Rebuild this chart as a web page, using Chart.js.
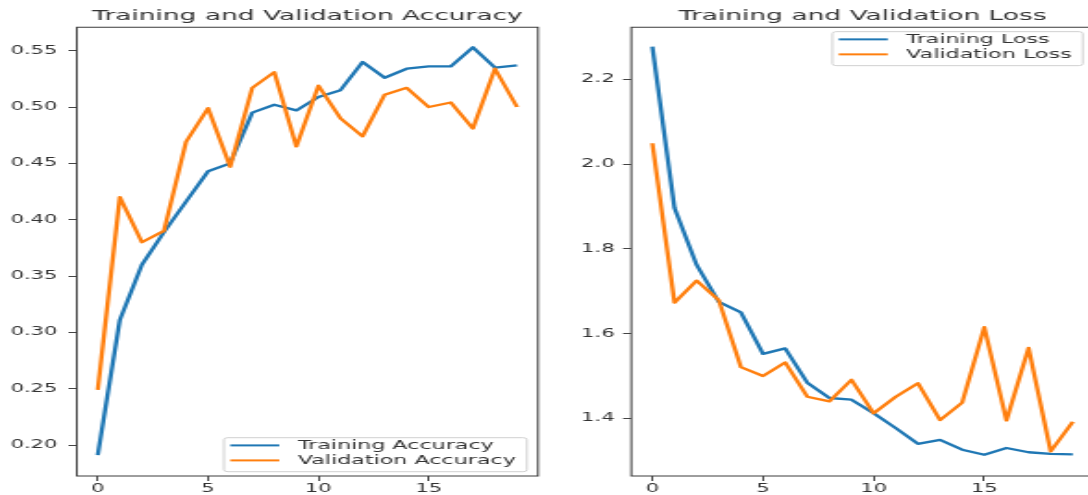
<!DOCTYPE html>
<html>
<head>
<meta charset="utf-8">
<title>Training and Validation</title>
<script src="https://cdn.jsdelivr.net/npm/chart.js@4.4.1/dist/chart.umd.min.js"></script>
<style>
    html, body { margin: 0; padding: 0; background: #fff; overflow: hidden; }
    body { width: 1088px; height: 495px; position: relative; }
    /* the source figure is stretched sideways, so each panel is drawn narrow and widened */
    .panel { position: absolute; top: 0; height: 495px; transform-origin: 0 0; transform: scaleX(1.85); }
    #accPanel { left: 0; width: 294px; }
    #lossPanel { left: 544px; width: 300px; }
</style>
</head>
<body>
<div class="panel" id="accPanel"><canvas id="accChart" width="294" height="495"></canvas></div>
<div class="panel" id="lossPanel"><canvas id="lossChart" width="300" height="495"></canvas></div>
<script>
const epochs = [0, 1, 2, 3, 4, 5, 6, 7, 8, 9, 10, 11, 12, 13, 14, 15, 16, 17, 18, 19];

const trainAcc = [0.191, 0.311, 0.360, 0.389, 0.416, 0.443, 0.450, 0.495, 0.502, 0.497,
                  0.509, 0.515, 0.540, 0.526, 0.534, 0.536, 0.536, 0.553, 0.535, 0.537];
const valAcc = [0.249, 0.420, 0.380, 0.390, 0.469, 0.499, 0.447, 0.517, 0.531, 0.465,
                0.519, 0.490, 0.474, 0.511, 0.517, 0.500, 0.504, 0.481, 0.534, 0.500];

const trainLoss = [2.277, 1.896, 1.762, 1.675, 1.650, 1.552, 1.565, 1.484, 1.448, 1.444,
                   1.412, 1.377, 1.340, 1.349, 1.326, 1.314, 1.330, 1.320, 1.316, 1.315];
const valLoss = [2.049, 1.673, 1.725, 1.679, 1.521, 1.500, 1.532, 1.451, 1.440, 1.491,
                 1.412, 1.451, 1.483, 1.396, 1.437, 1.615, 1.395, 1.566, 1.322, 1.392];

const epochTicks = [0, 5, 10, 15];
const accTicks = [0.20, 0.25, 0.30, 0.35, 0.40, 0.45, 0.50, 0.55];
const lossTicks = [1.4, 1.6, 1.8, 2.0, 2.2];

const BLUE = "#1f77b4";
const ORANGE = "#ff7f0e";
const TEXT = "#333";
const FONT = "'DejaVu Sans', sans-serif";

Chart.defaults.font.family = FONT;

// matplotlib draws a box round the whole axes
const framePlugin = {
    id: "frame",
    afterDatasetsDraw(chart) {
        const { ctx, chartArea: a } = chart;
        ctx.save();
        ctx.strokeStyle = "#3c3c3c";
        ctx.lineWidth = 1;
        ctx.strokeRect(a.left, a.top, a.right - a.left, a.bottom - a.top);
        ctx.restore();
    }
};

// legend sitting inside the axes, like loc="lower right" / "upper right"
const boxLegend = {
    id: "boxLegend",
    afterDraw(chart, args, opts) {
        const { ctx, chartArea: a } = chart;
        const sets = chart.data.datasets;
        ctx.save();
        ctx.font = "12px " + FONT;
        const textW = Math.max(...sets.map(d => ctx.measureText(d.label).width));
        const w = 3.4 + 26.5 + 10 + textW + 6;
        const h = 34;
        const x = a.right - 6 - w;
        const y = opts.corner === "top" ? a.top + 4.4 : a.bottom - 4.3 - h;
        ctx.beginPath();
        ctx.roundRect(x, y, w, h, 2);
        ctx.fillStyle = "rgba(255,255,255,0.8)";
        ctx.fill();
        ctx.strokeStyle = "#d0d0d0";
        ctx.lineWidth = 1;
        ctx.stroke();
        sets.forEach((d, i) => {
            const cy = y + 7.7 + i * 15;
            ctx.beginPath();
            ctx.moveTo(x + 3.4, cy);
            ctx.lineTo(x + 29.9, cy);
            ctx.strokeStyle = d.borderColor;
            ctx.lineWidth = 2;
            ctx.stroke();
            ctx.fillStyle = TEXT;
            ctx.textBaseline = "middle";
            ctx.textAlign = "left";
            ctx.fillText(d.label, x + 39.9, cy + 0.5);
        });
        ctx.restore();
    }
};

function series(label, values, color, order) {
    return {
        label,
        data: epochs.map((e, i) => ({ x: e, y: values[i] })),
        borderColor: color,
        backgroundColor: color,
        borderWidth: 2.3,
        pointRadius: 0,
        tension: 0,
        borderJoinStyle: "round",
        fill: false,
        order
    };
}

function makeChart(id, cfg) {
    return new Chart(document.getElementById(id), {
        type: "line",
        data: {
            datasets: [
                series(cfg.names[0], cfg.train, BLUE, 1),
                series(cfg.names[1], cfg.val, ORANGE, 0)
            ]
        },
        plugins: [framePlugin, boxLegend],
        options: {
            responsive: false,
            animation: false,
            events: [],
            layout: { padding: { left: 0, right: cfg.padRight, top: 0, bottom: 0 } },
            plugins: {
                legend: { display: false },
                tooltip: { enabled: false },
                title: {
                    display: true,
                    text: cfg.title,
                    fullSize: false,
                    color: TEXT,
                    font: { size: 14.3, weight: "normal" },
                    padding: { top: 7.9, bottom: 2.2 }
                },
                boxLegend: { corner: cfg.corner }
            },
            scales: {
                x: {
                    type: "linear",
                    min: -0.95,
                    max: 19.95,
                    afterBuildTicks: scale => { scale.ticks = epochTicks.map(v => ({ value: v })); },
                    afterFit: scale => { scale.height = 19; },
                    grid: { drawOnChartArea: false, drawTicks: true, tickLength: 5, color: "#444" },
                    border: { display: false },
                    ticks: { autoSkip: false, maxRotation: 0, padding: 1, color: TEXT, font: { size: 11.4 }, callback: v => String(v) }
                },
                y: {
                    type: "linear",
                    min: cfg.yMin,
                    max: cfg.yMax,
                    afterBuildTicks: scale => { scale.ticks = cfg.ticks.map(v => ({ value: v })); },
                    afterFit: scale => { scale.width = cfg.axisWidth; },
                    grid: { drawOnChartArea: false, drawTicks: true, tickLength: 4.5, color: "#444" },
                    border: { display: false },
                    ticks: { autoSkip: false, padding: cfg.tickPad, color: TEXT, font: { size: 11.4 }, callback: v => v.toFixed(cfg.digits) }
                }
            }
        }
    });
}

makeChart("accChart", {
    title: "Training and Validation Accuracy",
    names: ["Training Accuracy", "Validation Accuracy"],
    train: trainAcc,
    val: valAcc,
    ticks: accTicks,
    digits: 2,
    yMin: 0.1725,
    yMax: 0.5708,
    axisWidth: 41.5,
    padRight: 3.2,
    tickPad: 6,
    corner: "bottom"
});

makeChart("lossChart", {
    title: "Training and Validation Loss",
    names: ["Training Loss", "Validation Loss"],
    train: trainLoss,
    val: valLoss,
    ticks: lossTicks,
    digits: 1,
    yMin: 1.264,
    yMax: 2.3226,
    axisWidth: 47.2,
    padRight: 2.8,
    tickPad: 4.5,
    corner: "top"
});
</script>
</body>
</html>
